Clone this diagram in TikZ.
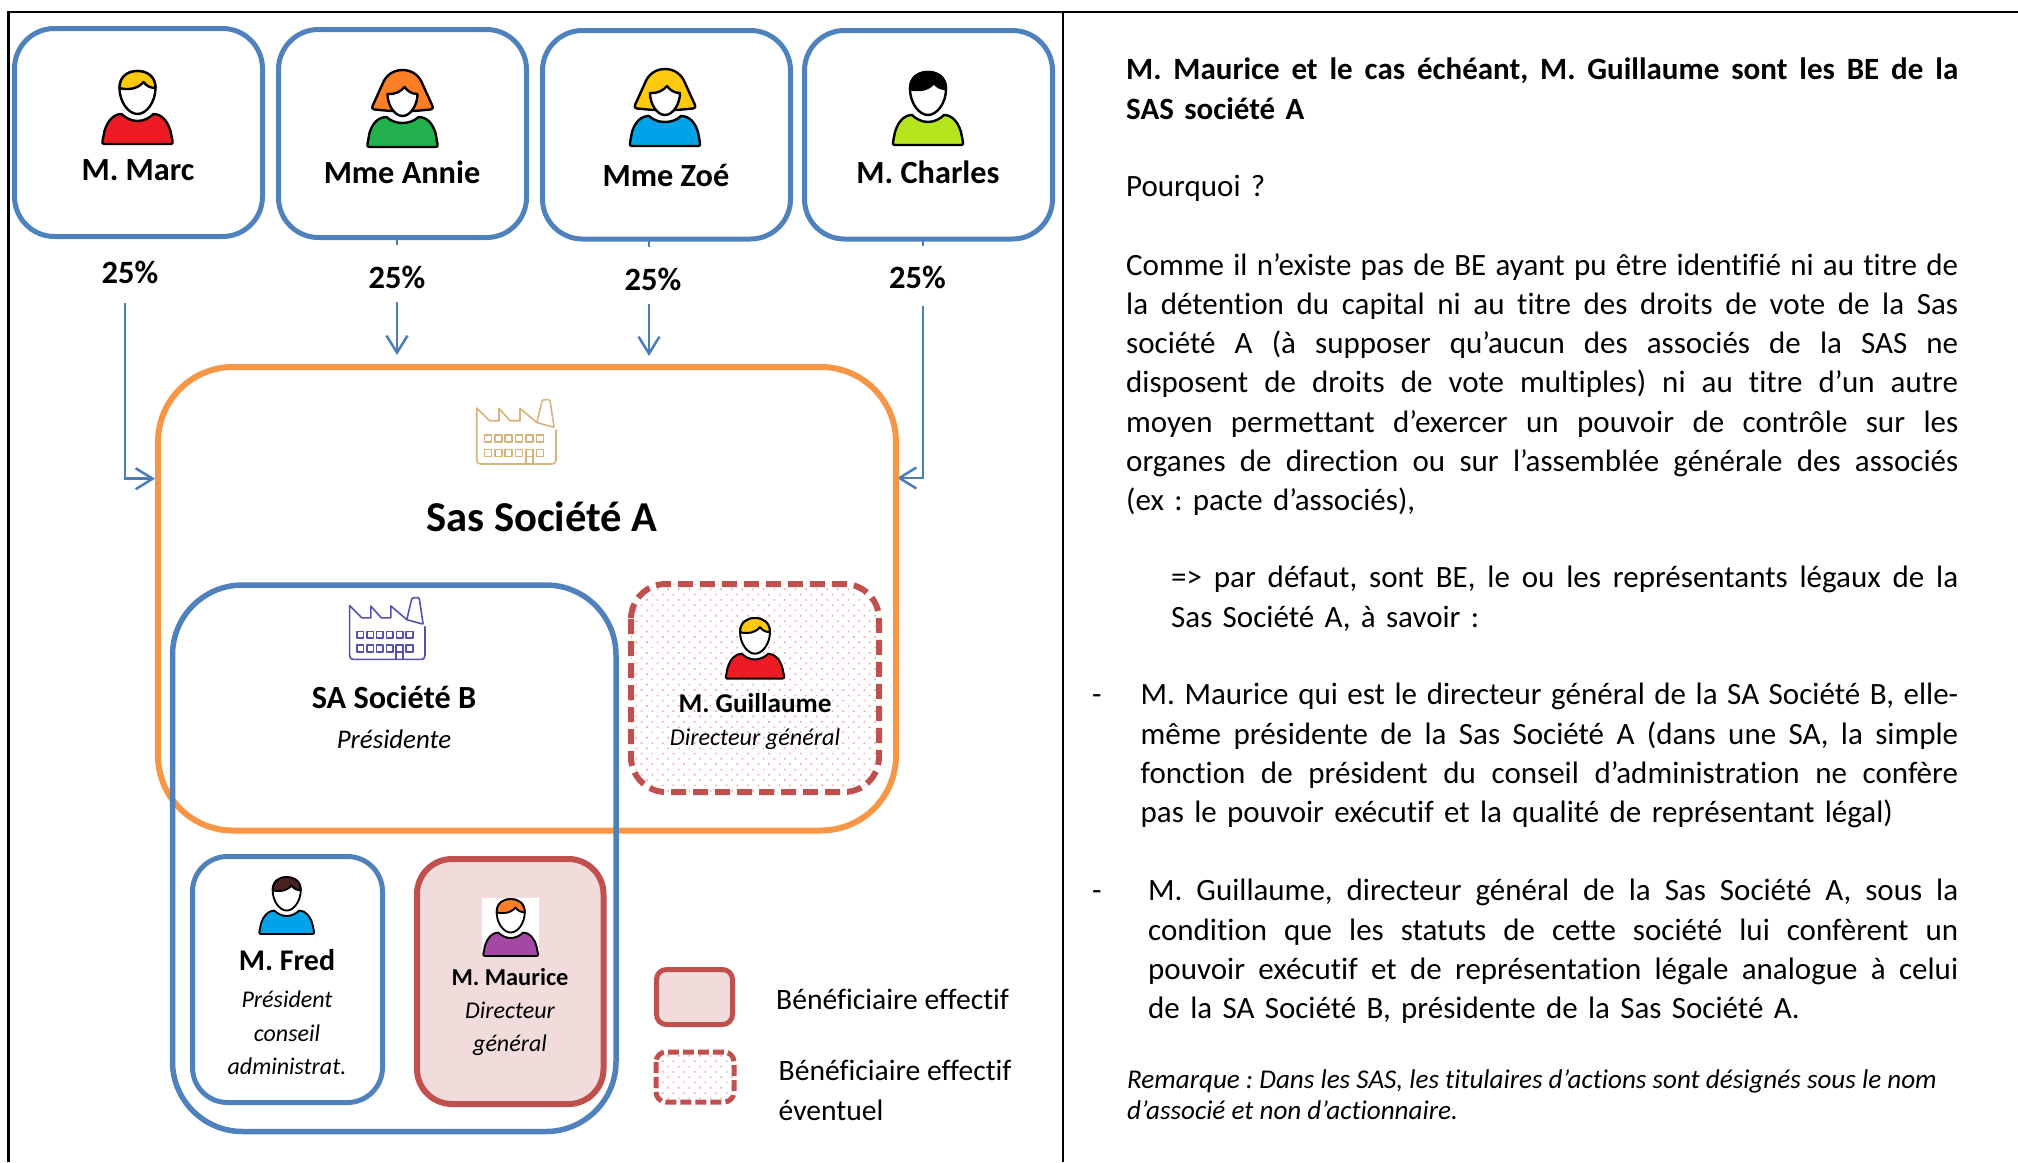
\documentclass[tikz,border=0pt]{standalone}
\usepackage{fontspec}
\setmainfont{Carlito}[Ligatures=NoCommon]
\usetikzlibrary{arrows.meta,patterns.meta}
\AtBeginDocument{\frenchspacing}
\definecolor{bluebox}{HTML}{4F81BD}
\definecolor{arrowblue}{HTML}{4A7EBB}
\definecolor{orangebox}{HTML}{F79646}
\definecolor{redbox}{HTML}{C0504D}
\definecolor{pinkfill}{HTML}{F2DCDB}
\definecolor{dotpink}{HTML}{EBA9A9}
\definecolor{facA}{HTML}{D9B37C}
\definecolor{facB}{HTML}{5252B2}
\definecolor{hairY}{HTML}{FFC90E}
\definecolor{hairO}{HTML}{FF7F27}
\definecolor{hairB}{HTML}{4A2020}
\definecolor{shirtR}{HTML}{ED1C24}
\definecolor{shirtG}{HTML}{22B14C}
\definecolor{shirtC}{HTML}{00A2E8}
\definecolor{shirtL}{HTML}{B5E61D}
\definecolor{shirtP}{HTML}{A349A4}
\newcommand{\fs}[1]{\fontsize{#1}{#1}\selectfont}
\newcommand{\jl}[1]{\leavevmode\hbox to \hsize{\spaceskip=0.226em plus 4em minus 0.15em\relax #1}}
% man icon: cx, top, scale, hair, shirt
\newcommand{\manicon}[5]{%
\begin{scope}[shift={(#1,#2)},scale=#3,line width=#3*2.4pt,line join=round]
\filldraw[fill=#5,draw=black] (-16,43) .. controls (-12,47) and (-6,50) .. (0,50) .. controls (6,50) and (12,47) .. (16,43) .. controls (24,43) and (30,50) .. (33,60) -- (35,70) .. controls (35.5,72) and (35,73) .. (33,73) -- (-33,73) .. controls (-35,73) and (-35.5,72) .. (-35,70) -- (-33,60) .. controls (-30,50) and (-24,43) .. (-16,43) -- cycle;
\filldraw[fill=white,draw=black] (-18,17) .. controls (-18,5) and (-9,0) .. (0,0) .. controls (9,0) and (18,5) .. (18,17) .. controls (18,31) and (9,43) .. (0,43) .. controls (-9,43) and (-18,31) .. (-18,17) -- cycle;
\filldraw[fill=#4,draw=black] (-18,17) .. controls (-18,5) and (-9,0) .. (0,0) .. controls (9,0) and (18,5) .. (18,17) .. controls (13,17) and (9,15) .. (6,11) .. controls (3,15) and (-3,18) .. (-9,18) .. controls (-13,18) and (-16,18) .. (-18,17) -- cycle;
\end{scope}}
% woman icon: cx, top, hair, shirt
\newcommand{\womanicon}[4]{%
\begin{scope}[shift={(#1,#2)},line width=2.4pt,line join=round]
\filldraw[fill=#4,draw=black] (-16,47) .. controls (-12,51) and (-6,53) .. (0,53) .. controls (6,53) and (12,51) .. (16,47) .. controls (24,47) and (30,53) .. (33,63) -- (35,74) .. controls (35.5,76) and (35,77) .. (33,77) -- (-33,77) .. controls (-35,77) and (-35.5,76) .. (-35,74) -- (-33,63) .. controls (-30,53) and (-24,47) .. (-16,47) -- cycle;
\filldraw[fill=#3,draw=black] (0,0) .. controls (10,0) and (17,6) .. (20,14) -- (30,36) .. controls (31,38) and (30,39) .. (28,39.5) -- (12,41) -- (-12,41) -- (-28,39.5) .. controls (-30,39) and (-31,38) .. (-30,36) -- (-20,14) .. controls (-17,6) and (-10,0) .. (0,0) -- cycle;
\filldraw[fill=white,draw=black] (-15,24) .. controls (-15,35) and (-8,46) .. (0,46) .. controls (8,46) and (15,35) .. (15,24) .. controls (9,24) and (5,21) .. (2,17) .. controls (-1,21) and (-8,25) .. (-15,24) -- cycle;
\end{scope}}
% factory icon: x0, y0, xscale, yscale, colour
\newcommand{\factoryicon}[5]{%
\begin{scope}[shift={(#1,#2)},xscale=#3,yscale=#4,draw=#5,line width=1.6pt,line join=round,line cap=round]
\draw (0.7,61) -- (0.7,9) -- (13.5,21.7) -- (23,21.7) -- (23,9.5) -- (34,21.7) -- (44,21.7) -- (44,9.3) -- (61,23.7) -- (77,28);
\draw (61,23) -- (66,2) .. controls (66.3,0.5) and (73,0) .. (74,1.5) -- (78,28);
\draw (80,31) -- (80,61) .. controls (80,64) and (78,65) .. (76,65) -- (5,65) .. controls (2,65) and (0.7,64) .. (0.7,61);
\foreach \yy in {36,50.3}{\foreach \xx in {8.3,18.7,29.1,39.5,49.9,60.3}{\draw (\xx,\yy) rectangle ++(7,7);}}
\draw (49.7,65) -- (49.7,50.3) -- (57,50.3) -- (57,65);
\end{scope}}
\tikzset{
 x=1pt,y=-1pt,
 personbox/.style={draw=bluebox,line width=5pt,rounded corners=40pt},
 flowline/.style={draw=arrowblue,line width=2.5pt},
 flowarrow/.style={flowline,-{Straight Barb[length=17pt,width=21pt,line width=2.5pt]}},
 nametxt/.style={font=\bfseries\fs{#1},inner sep=0pt,anchor=center},
 roletxt/.style={font=\itshape\fs{#1},inner sep=0pt,anchor=center},
 pct/.style={font=\bfseries\fs{32.5},inner sep=0pt,anchor=center},
 legtxt/.style={inner sep=0pt,anchor=west,font=\fs{29.6}},
 para/.style={inner sep=0pt,anchor=north west,align=left,text width=#1,font=\fontsize{31}{39.3}\selectfont},
 dashbox/.style={draw=redbox,line width=6pt,dash pattern=on 15pt off 7pt,pattern={Dots[angle=45,distance=7.5pt,radius=1.1pt]},pattern color=dotpink},
 solidbox/.style={draw=redbox,fill=pinkfill},
 frameline/.style={draw=black,line width=2.2pt},
}
\begin{document}
\begin{tikzpicture}
\useasboundingbox (0,0) rectangle (2018,1162);
% frame
\draw[frameline] (8.5,1162) -- (8.5,12) -- (2018,12);
\draw[frameline] (1063,12) -- (1063,1162);
% top boxes
\draw[personbox] (14.5,28.5) rectangle (262.5,236.5);
\draw[personbox] (278.5,29.5) rectangle (526.5,237.5);
\draw[personbox] (542.5,30.5) rectangle (790.5,239);
\draw[personbox] (804.5,30.5) rectangle (1052.5,239);
\manicon{137.5}{71}{1}{hairY}{shirtR}
\womanicon{402.5}{70}{hairO}{shirtG}
\womanicon{665}{69}{hairY}{shirtC}
\manicon{928}{72}{1}{black}{shirtL}
\node[nametxt=32.3] (n1) at (138,170) {M. Marc};
\node[nametxt=32.3] (n2) at (402,172) {Mme Annie};
\node[nametxt=32.3] (n3) at (666,175) {Mme Zoé};
\node[nametxt=32.3] (n4) at (928,172) {M. Charles};
\node[pct] (p1) at (130,272) {25\%};
\node[pct] (p2) at (397,277) {25\%};
\node[pct] (p3) at (653,279) {25\%};
\node[pct] (p4) at (917.5,277) {25\%};
% arrows
\coordinate (a1s) at (125,303); \coordinate (a1b) at (125,478.7); \coordinate (a1e) at (155,478.7);
\coordinate (a2s) at (397,302); \coordinate (a2e) at (397,355);
\coordinate (a3s) at (649,304); \coordinate (a3e) at (649,356);
\coordinate (a4s) at (923,306); \coordinate (a4b) at (923,478); \coordinate (a4e) at (897,478);
\draw[flowline] (397,240) -- (397,245);
\draw[flowline] (649,241) -- (649,247);
\draw[flowline] (923,241) -- (923,246);
\draw[flowarrow] (a1s) -- (a1b) -- (a1e);
\draw[flowarrow] (a2s) -- (a2e);
\draw[flowarrow] (a3s) -- (a3e);
\draw[flowarrow] (a4s) -- (a4b) -- (a4e);
% big boxes
\draw[draw=orangebox,line width=6pt,rounded corners=75pt] (158,367) rectangle (896,830.5);
\draw[draw=bluebox,line width=5.5pt,rounded corners=70pt] (172.5,585) rectangle (616,1131.5);
\factoryicon{476}{399}{1}{1}{facA}
\factoryicon{349}{597}{0.95}{0.96}{facB}
\node[nametxt=42.6] (sasa) at (542,517) {Sas Société A};
\node[nametxt=32.3] (sab) at (394,697.6) {SA Société B};
\node[roletxt=26.9] (pres) at (394,739.5) {Présidente};
% Guillaume
\draw[dashbox,rounded corners=35pt] (631,584) rectangle (879,792);
\manicon{755}{618}{0.83}{hairY}{shirtR}
\node[nametxt=27.2] (ng) at (755,703) {M. Guillaume};
\node[roletxt=24.2] (rg) at (755,739) {Directeur général};
% Fred
\draw[personbox,rounded corners=35pt] (192.5,856.5) rectangle (382.5,1102.5);
\manicon{286.7}{877}{0.78}{hairB}{shirtC}
\node[nametxt=30] (nf) at (287,960) {M. Fred};
\node[roletxt=24] (rf1) at (287,999) {Président};
\node[roletxt=24] (rf2) at (287,1033) {conseil};
\node[roletxt=24] (rf3) at (287,1066) {administrat.};
% Maurice
\draw[solidbox,line width=6pt,rounded corners=35pt] (417,859) rectangle (603.5,1104);
\fill[white] (482,898.4) rectangle (539,956);
\manicon{510.7}{899}{0.78}{hairO}{shirtP}
\node[nametxt=24.4] (nm) at (510,977) {M. Maurice};
\node[roletxt=24] (rm1) at (510,1010.5) {Directeur};
\node[roletxt=24] (rm2) at (510,1045.5) {général};
% legend
\draw[solidbox,line width=5pt,rounded corners=10pt] (656.5,969.5) rectangle (732.5,1024.5);
\draw[dashbox,line width=5pt,rounded corners=10pt,dash pattern=on 11pt off 4pt] (656,1052) rectangle (734,1102);
\node[legtxt] (l1) at (776,999.5) {Bénéficiaire effectif};
\node[legtxt] (l2) at (778.5,1070) {Bénéficiaire effectif};
\node[legtxt] (l3) at (778.5,1110) {éventuel};
% right text
\node[para=832pt] (t1) at (1126,58) {\bfseries\jl{M. Maurice et le cas échéant, M. Guillaume sont les BE de la}\\SAS société A};
\node[para=832pt] (t2) at (1126,175) {Pourquoi ?};
\node[para=832pt] (t3) at (1126,253) {\jl{Comme il n’existe pas de BE ayant pu être identifié ni au titre de}\\
\jl{la détention du capital ni au titre des droits de vote de la Sas}\\
\jl{société A (à supposer qu’aucun des associés de la SAS ne}\\
\jl{disposent de droits de vote multiples) ni au titre d’un autre}\\
\jl{moyen permettant d’exercer un pouvoir de contrôle sur les}\\
\jl{organes de direction ou sur l’assemblée générale des associés}\\
(ex : pacte d’associés),};
\node[para=787pt] (t4) at (1171,566) {\jl{=> par défaut, sont BE, le ou les représentants légaux de la}\\Sas Société A, à savoir :};
\node[para=20pt] (d1) at (1092,683) {\vphantom{Mld}-};
\node[para=817.5pt] (t5) at (1140.5,683) {\jl{M. Maurice qui est le directeur général de la SA Société B, elle-}\\
\jl{même présidente de la Sas Société A (dans une SA, la simple}\\
\jl{fonction de président du conseil d’administration ne confère}\\
pas le pouvoir exécutif et la qualité de représentant légal)};
\node[para=20pt] (d2) at (1092,879) {\vphantom{Mld}-};
\node[para=810pt] (t6) at (1148,879) {\jl{M. Guillaume, directeur général de la Sas Société A, sous la}\\
\jl{condition que les statuts de cette société lui confèrent un}\\
\jl{pouvoir exécutif et de représentation légale analogue à celui}\\
de la SA Société B, présidente de la Sas Société A.};
\node[inner sep=0pt,anchor=north west,align=left,font=\itshape\fontsize{27.1}{31}\selectfont] (t7) at (1127,1069) {Remarque : Dans les SAS, les titulaires d’actions sont désignés sous le nom\\d’associé et non d’actionnaire.};
\end{tikzpicture}
\end{document}
